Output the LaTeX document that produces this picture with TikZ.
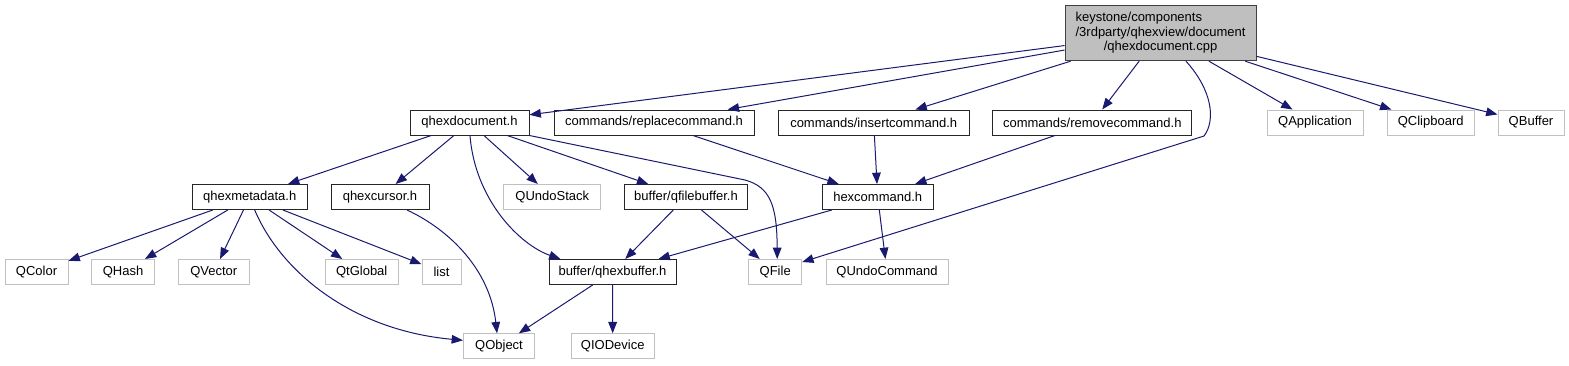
\documentclass[tikz,border=0pt]{standalone}
\usepackage{fontspec}
\setmainfont{Liberation Sans}
\usepackage{tikz}
\usetikzlibrary{arrows.meta, calc, positioning}
\definecolor{edgeblue}{HTML}{191970}
\definecolor{rootgray}{HTML}{BFBFBF}
\definecolor{externgray}{HTML}{C0C0C0}
\tikzstyle{header} = [rectangle, draw=black!85, line width=0.75pt, minimum height=18.75pt, inner sep=0pt, font=\fontsize{9.75}{11}\selectfont]
\tikzstyle{extern} = [rectangle, draw=externgray, line width=0.75pt, minimum height=18.75pt, inner sep=0pt, font=\fontsize{9.75}{11}\selectfont]
\tikzstyle{arrow} = [line width=0.75pt, draw=edgeblue, -{Stealth[length=8.5pt,width=6.5pt,inset=0pt]}]

\begin{document}
\begin{tikzpicture}[x=0.75pt, y=-0.75pt]
\useasboundingbox (0,0) rectangle (1569,365);

% the file itself
\node[
rectangle,
draw=black!75,
fill=rootgray,
line width=0.75pt,
minimum width=143.25pt,
minimum height=41.25pt,
inner sep=0pt,
font=\fontsize{9.75}{11}\selectfont
] (qhexdocumentcpp) at (1160.5,33.2) {\begin{tabular}{@{}l@{}}keystone/components\\/3rdparty/qhexview/document\\\multicolumn{1}{@{}c@{}}{/qhexdocument.cpp}\end{tabular}};

% first row
\node[header, minimum width=89.25pt] (qhexdocument) at (469.5,122.5) {qhexdocument.h};
\node[header, minimum width=150pt] (replacecommand) at (654,122.5) {commands/replacecommand.h};
\node[header, minimum width=143.25pt] (insertcommand) at (873.7,122.5) {commands/insertcommand.h};
\node[header, minimum width=149.25pt] (removecommand) at (1092.3,122.5) {commands/removecommand.h};
\node[extern, minimum width=72pt] (qapplication) at (1315,122.5) {QApplication};
\node[extern, minimum width=65.25pt] (qclipboard) at (1430.7,122.5) {QClipboard};
\node[extern, minimum width=49.5pt] (qbuffer) at (1531,122.5) {QBuffer};

% second row
\node[header, minimum width=86.25pt] (qhexmetadata) at (249.7,197) {qhexmetadata.h};
\node[header, minimum width=73.5pt] (qhexcursor) at (380,197) {qhexcursor.h};
\node[extern, minimum width=72.75pt] (qundostack) at (552.3,197) {QUndoStack};
\node[header, minimum width=92.25pt] (qfilebuffer) at (686,197) {buffer/qfilebuffer.h};
\node[header, minimum width=83.25pt] (hexcommand) at (877.7,197) {hexcommand.h};

% third row
\node[extern, minimum width=47.25pt] (qcolor) at (36.5,272) {QColor};
\node[extern, minimum width=47.25pt] (qhash) at (123,272) {QHash};
\node[extern, minimum width=53.25pt] (qvector) at (213.8,272) {QVector};
\node[extern, minimum width=54.75pt] (qtglobal) at (361.7,272) {QtGlobal};
\node[extern, minimum width=29.25pt] (list) at (441.5,272) {list};
\node[header, minimum width=95.25pt] (qhexbuffer) at (612.5,272) {buffer/qhexbuffer.h};
\node[extern, minimum width=39.75pt] (qfile) at (775.2,272) {QFile};
\node[extern, minimum width=91.5pt] (qundocommand) at (887,272) {QUndoCommand};

% last row
\node[extern, minimum width=53.25pt] (qobject) at (499,346.3) {QObject};
\node[extern, minimum width=62.25pt] (qiodevice) at (612.7,346.3) {QIODevice};

% includes of the file
\draw[arrow] (qhexdocumentcpp) -- (qhexdocument);
\draw[arrow] (qhexdocumentcpp) -- (replacecommand);
\draw[arrow] (qhexdocumentcpp) -- (insertcommand);
\draw[arrow] (qhexdocumentcpp) -- (removecommand);
\draw[arrow] (qhexdocumentcpp) -- (qapplication);
\draw[arrow] (qhexdocumentcpp) -- (qclipboard);
\draw[arrow] (qhexdocumentcpp) -- (qbuffer);
\draw[arrow] ($(qhexdocumentcpp.south)+(25.5,0)$) .. controls (1212,90) and (1216,120) .. (1204,136) -- ($(qfile.east)+(0,-10)$);

% includes of the headers
\draw[arrow] (qhexdocument) -- (qhexmetadata);
\draw[arrow] (qhexdocument) -- (qhexcursor);
\draw[arrow] (qhexdocument) -- (qundostack);
\draw[arrow] (qhexdocument) -- (qfilebuffer);
\draw[arrow] (qhexdocument.south east) -- (745,180) .. controls (770,187) and (777,205) .. ($(qfile.north)+(2,0)$);
\draw[arrow] ($(qhexdocument.south)+(0.5,0)$) .. controls (475,200) and (520,245) .. ($(qhexbuffer.north west)+(12,0)$);
\draw[arrow] (replacecommand) -- (hexcommand);
\draw[arrow] (insertcommand) -- (hexcommand);
\draw[arrow] (removecommand) -- (hexcommand);
\draw[arrow] (qhexmetadata) -- (qcolor);
\draw[arrow] (qhexmetadata) -- (qhash);
\draw[arrow] (qhexmetadata) -- (qvector);
\draw[arrow] (qhexmetadata) -- (qtglobal);
\draw[arrow] (qhexmetadata) -- (list);
\draw[arrow] ($(qhexmetadata.south)+(5,0)$) .. controls (280,270) and (350,330) .. ($(qobject.west)+(0,-6)$);
\draw[arrow] ($(qhexcursor.south)+(27,0)$) .. controls (450,230) and (490,270) .. ($(qobject.north)+(-2,0)$);
\draw[arrow] (qfilebuffer) -- (qhexbuffer);
\draw[arrow] (qfilebuffer) -- (qfile);
\draw[arrow] (hexcommand) -- (qhexbuffer);
\draw[arrow] (hexcommand) -- (qundocommand);
\draw[arrow] (qhexbuffer) -- (qobject);
\draw[arrow] (qhexbuffer) -- (qiodevice);
\end{tikzpicture}
\end{document}
